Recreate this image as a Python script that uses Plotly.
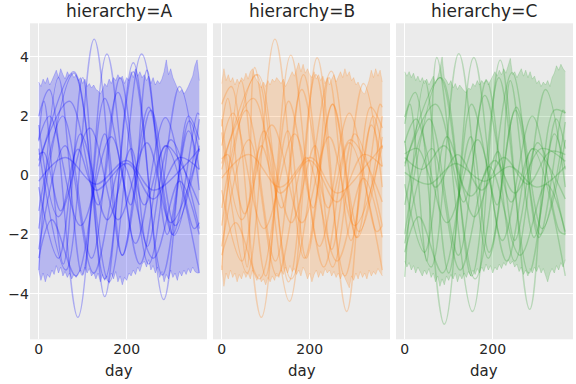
import plotly.graph_objects as go

# ---------------- data ----------------
BAND_DAYS = list(range(0, 366, 5))

A_UPPER = [3.15, 3.0, 3.25, 3.1, 3.3, 3.05, 3.2, 3.35, 3.55, 3.3, 3.6, 3.4, 3.25, 3.5, 3.35, 3.45,
           3.3, 3.4, 3.2, 3.3, 3.1, 3.25, 3.0, 3.1, 2.95, 3.05, 2.9, 2.85, 2.75, 2.9, 3.1, 3.0,
           3.25, 3.1, 3.3, 3.2, 3.4, 3.25, 3.35, 3.1, 3.3, 3.2, 3.5, 3.3, 3.6, 3.35, 3.5, 3.3,
           3.4, 3.2, 3.35, 3.1, 3.3, 3.05, 3.2, 3.1, 3.25, 3.5, 3.9, 3.4, 3.6, 3.3, 3.1, 2.95,
           2.8, 2.9, 2.75, 2.85, 3.0, 3.2, 3.35, 3.7, 3.9, 3.2]
A_LOWER = [-3.2, -3.55, -3.3, -3.6, -3.35, -3.45, -3.2, -3.35, -3.05, -3.3, -3.1, -3.4, -3.25,
           -3.45, -3.3, -3.5, -3.35, -3.45, -3.3, -3.2, -3.35, -3.1, -3.3, -3.15, -3.4, -3.3,
           -3.5, -3.3, -3.6, -3.35, -3.55, -3.4, -3.65, -3.3, -3.5, -3.25, -3.6, -3.4, -3.7,
           -3.45, -3.55, -3.3, -3.4, -3.2, -3.35, -3.1, -3.25, -3.0, -2.9, -3.1, -2.85, -3.2,
           -3.05, -3.3, -3.1, -3.45, -3.25, -3.6, -3.35, -3.5, -3.2, -3.45, -3.3, -3.55, -3.25,
           -3.4, -3.2, -3.35, -3.15, -3.3, -3.1, -3.25, -3.3, -3.3]

B_UPPER = [3.1, 3.6, 3.2, 3.4, 3.15, 3.3, 3.05, 3.25, 3.1, 3.3, 3.2, 3.45, 3.25, 3.5, 3.6, 3.35,
           3.2, 3.1, 2.95, 3.15, 3.0, 3.2, 3.05, 3.25, 3.15, 3.3, 3.2, 3.1, 3.25, 3.0, 3.15, 3.3,
           3.5, 3.35, 3.6, 3.8, 3.5, 3.75, 3.45, 3.6, 3.4, 3.3, 3.5, 3.25, 3.4, 3.2, 3.35, 3.1,
           3.3, 3.05, 3.25, 3.4, 3.15, 3.3, 3.5, 3.3, 3.6, 3.35, 3.5, 3.2, 3.3, 3.05, 3.15, 2.95,
           2.8, 2.75, 2.95, 3.2, 3.55, 3.3, 3.6, 3.35, 3.55, 3.15]
B_LOWER = [-3.05, -3.75, -3.3, -3.5, -3.2, -3.45, -3.3, -3.6, -3.35, -3.5, -3.25, -3.45, -3.3,
           -3.5, -3.2, -3.4, -3.55, -3.35, -3.6, -3.5, -3.7, -3.45, -3.6, -3.4, -3.55, -3.3,
           -3.45, -3.2, -3.35, -3.1, -3.3, -3.05, -3.25, -3.15, -3.35, -3.2, -3.4, -3.1, -3.25,
           -3.5, -3.3, -3.6, -3.35, -3.2, -3.45, -3.25, -3.4, -3.15, -3.3, -3.2, -3.4, -3.25,
           -3.45, -3.3, -3.5, -3.3, -3.45, -3.6, -3.8, -3.4, -3.55, -3.3, -3.5, -3.25, -3.45,
           -3.3, -3.5, -3.2, -3.4, -3.25, -3.35, -3.15, -3.3, -3.4]

C_UPPER = [3.5, 3.35, 3.5, 3.3, 3.45, 3.2, 3.35, 3.15, 3.3, 3.1, 3.25, 3.05, 3.2, 3.35, 3.1, 3.3,
           3.6, 4.0, 3.3, 3.2, 3.05, 3.2, 2.95, 3.1, 2.9, 3.05, 2.95, 2.85, 2.8, 2.95, 2.9, 3.1,
           3.0, 3.2, 3.05, 3.2, 3.1, 3.25, 3.05, 3.2, 3.3, 3.5, 3.35, 3.55, 3.4, 3.6, 3.45, 3.7,
           3.95, 3.4, 3.5, 3.3, 3.45, 3.6, 3.35, 3.55, 3.3, 3.5, 3.25, 3.35, 3.1, 3.2, 3.0, 3.15,
           3.05, 3.2, 3.0, 3.3, 3.45, 3.7, 3.55, 3.75, 3.6, 3.5]
C_LOWER = [-2.9, -3.1, -2.95, -3.2, -3.05, -3.3, -3.1, -3.25, -3.4, -3.2, -3.35, -3.15, -3.45,
           -3.3, -3.6, -3.4, -3.75, -3.5, -3.7, -3.4, -3.55, -3.35, -3.5, -3.3, -3.6, -3.35,
           -3.5, -3.3, -3.45, -3.25, -3.4, -3.2, -3.35, -3.15, -3.3, -3.1, -3.25, -3.0, -3.2,
           -3.05, -3.3, -3.1, -3.2, -3.0, -3.15, -2.95, -3.05, -2.85, -3.0, -2.9, -3.1, -3.0,
           -3.25, -3.1, -3.35, -3.2, -3.4, -3.15, -3.3, -3.1, -3.25, -3.05, -3.3, -3.15, -3.4,
           -3.6, -3.3, -3.15, -3.3, -3.05, -3.2, -2.95, -3.1, -2.85]

# curves: (day, value) turning points
A_CURVES = [
    [(0, 0.9), (62, -3.2), (126, 4.6), (190, -2.7), (255, 2.2), (310, -1.7), (365, 1.0)],
    [(0, 2.0), (24, 2.9), (89, -4.8), (155, 4.1), (220, -2.3), (288, 1.95), (353, -1.8), (365, -1.6)],
    [(0, 1.15), (12, 2.5), (56, -3.0), (100, 3.3), (150, -4.1), (215, 3.8), (284, -4.2), (340, 2.0), (365, 1.2)],
    [(0, -1.8), (80, 3.45), (160, -3.6), (234, 4.1), (304, -2.0), (361, 2.1), (365, 2.05)],
    [(0, -3.2), (45, 3.3), (99, -3.37), (150, 2.6), (209, -1.0), (246, 3.55), (292, -2.0), (342, 1.84), (365, 0.8)],
    [(0, 0.7), (12, 0.77), (50, -1.2), (89, 0.88), (130, -0.5), (201, 0.4), (260, -0.8), (320, 0.6), (365, 0.2)],
    [(0, 1.7), (45, -1.4), (116, 1.6), (180, -1.5), (246, 1.1), (300, -1.6), (365, 0.9)],
    [(0, -0.4), (45, -2.8), (95, 1.4), (156, -1.5), (210, 0.9), (247, -2.4), (300, 1.2), (365, -1.8)],
    [(0, 1.2), (25, 2.0), (95, -1.7), (165, 1.3), (230, -3.0), (288, 1.0), (365, -3.3)],
    [(0, -2.5), (60, 1.0), (125, -3.3), (190, 0.4), (260, -2.8), (320, -0.2), (365, -2.0)],
    [(0, 0.3), (80, 3.5), (150, -3.5), (215, 3.5), (281, -3.37), (340, 1.5), (365, 0.2)],
    [(0, -1.2), (55, 2.0), (120, -2.8), (180, 2.8), (240, -1.0), (290, 1.0), (365, -1.0)],
    [(0, -0.2), (60, 0.6), (130, -0.3), (200, 0.5), (260, -0.5), (330, 0.3), (365, 0.9)],
    [(0, -2.8), (30, -1.5), (85, -3.4), (150, 1.4), (190, -2.7), (250, 2.3), (307, -2.03), (365, 1.9)],
    [(0, 0.5), (70, 2.5), (135, -1.0), (185, 3.3), (250, -3.0), (320, 3.0), (365, -0.5)],
]

B_CURVES = [
    [(0, 1.45), (58, -3.3), (121, 4.6), (188, -2.8), (252, 2.4), (312, -1.9), (365, 1.3)],
    [(0, 2.4), (22, 3.0), (90, -4.8), (157, 4.06), (222, -2.4), (290, 2.1), (352, -1.9), (365, -1.7)],
    [(0, 1.65), (14, 2.6), (58, -3.1), (75, 3.64), (154, -4.26), (217, 3.97), (284, -4.6), (338, 2.3), (365, 1.6)],
    [(0, -1.7), (78, 3.4), (158, -3.5), (249, 3.52), (306, -2.1), (360, 2.4), (365, 2.3)],
    [(0, -3.2), (44, 3.2), (100, -3.4), (152, 2.5), (208, -1.1), (244, 3.3), (294, -2.2), (344, 2.0), (365, 0.9)],
    [(0, 0.55), (14, 0.7), (52, -1.3), (90, 1.0), (132, -0.6), (200, 0.5), (262, -0.9), (322, 0.7), (365, 0.3)],
    [(0, 1.9), (46, -1.5), (114, 1.7), (182, -1.6), (244, 1.3), (302, -1.7), (365, 1.0)],
    [(0, -0.5), (46, -2.9), (96, 1.5), (158, -1.6), (212, 1.0), (250, -2.5), (302, 1.4), (365, -1.7)],
    [(0, 1.0), (26, 2.1), (96, -1.8), (166, 1.4), (232, -3.1), (290, 1.1), (365, -3.2)],
    [(0, -2.4), (62, 1.2), (126, -3.4), (192, 0.6), (262, -2.9), (322, -0.1), (365, -2.1)],
    [(0, 0.2), (82, 3.4), (152, -3.6), (214, 3.4), (280, -3.4), (340, 1.7), (365, 0.3)],
    [(0, -1.1), (56, 2.2), (122, -2.9), (182, 2.9), (242, -1.1), (292, 1.2), (365, -0.9)],
    [(0, -0.1), (62, 0.7), (132, -0.4), (202, 0.6), (262, -0.6), (332, 0.4), (365, 1.0)],
    [(0, -2.7), (32, -1.6), (86, -3.5), (150, 1.5), (192, -2.8), (252, 2.4), (308, -2.1), (365, 2.0)],
    [(0, 0.4), (72, 2.6), (136, -1.1), (186, 3.4), (252, -3.1), (322, 3.1), (365, -0.4)],
]

C_CURVES = [
    [(0, 1.16), (60, -3.1), (123, 4.11), (190, -2.8), (254, 2.3), (312, -1.8), (365, 1.2)],
    [(0, 1.97), (24, 2.8), (90, -5.03), (157, 3.98), (222, -2.2), (290, 2.0), (352, -1.9), (365, -2.0)],
    [(0, 1.74), (12, 2.4), (50, -2.9), (73, 3.98), (154, -4.6), (217, 3.89), (284, -4.53), (340, 2.2), (365, 2.1)],
    [(0, -1.98), (80, 3.3), (160, -3.5), (244, 3.47), (305, -2.1), (360, 2.2), (365, 2.1)],
    [(0, -3.43), (46, 3.2), (100, -3.3), (152, 2.4), (210, -1.0), (240, 3.2), (294, -2.1), (344, 1.9), (365, 0.9)],
    [(0, 0.72), (30, 0.9), (70, -0.4), (120, 0.7), (175, -0.5), (225, 0.6), (280, -0.3), (330, 0.8), (365, 0.7)],
    [(0, 0.6), (40, 0.2), (90, 1.0), (150, -0.7), (205, 0.5), (250, -0.6), (310, 0.9), (365, 0.47)],
    [(0, -0.3), (45, -2.6), (96, 1.3), (158, -1.4), (212, 0.8), (250, -2.2), (302, 1.1), (365, -2.0)],
    [(0, 1.1), (26, 1.9), (96, -1.6), (166, 1.2), (232, -2.9), (290, 0.9), (365, -3.4)],
    [(0, -2.3), (62, 0.9), (126, -3.2), (192, 0.3), (262, -2.7), (322, -0.3), (365, -1.9)],
    [(0, 0.3), (82, 3.3), (152, -3.4), (214, 3.3), (282, -3.3), (340, 1.4), (365, 0.2)],
    [(0, -1.0), (56, 1.9), (122, -2.7), (182, 2.7), (242, -0.9), (292, 0.9), (365, -0.8)],
    [(0, 0.1), (55, -0.3), (115, 0.4), (180, -0.2), (240, 0.3), (300, -0.4), (365, 0.3)],
    [(0, -2.6), (32, -1.4), (86, -3.3), (150, 1.3), (192, -2.6), (252, 2.2), (308, -2.0), (365, 1.8)],
    [(0, 0.4), (70, 2.4), (134, -0.9), (186, 3.2), (250, -2.9), (320, 2.9), (365, -0.4)],
]

PANELS = ["A", "B", "C"]
X_TICKS = [0, 200]
Y_TICKS = [-4, -2, 0, 2, 4]

# ---------------- styling ----------------
RGB = {"A": (0, 0, 255), "B": (255, 127, 14), "C": (44, 160, 44)}
BG = "#ebebeb"
FONT = "DejaVu Sans"
TEXT = "#262626"

DOMAINS = [(30 / 576, 207 / 576), (213 / 576, 390 / 576), (396 / 576, 573 / 576)]
Y_DOMAIN = (1 - 339.3 / 384, 1 - 23.3 / 384)

fig = go.Figure()
bands = {"A": (A_UPPER, A_LOWER), "B": (B_UPPER, B_LOWER), "C": (C_UPPER, C_LOWER)}
curves = {"A": A_CURVES, "B": B_CURVES, "C": C_CURVES}

for i, p in enumerate(PANELS):
    r, g, b = RGB[p]
    xa = "x" if i == 0 else f"x{i+1}"
    ya = "y" if i == 0 else f"y{i+1}"
    up, lo = bands[p]
    fig.add_trace(go.Scatter(x=BAND_DAYS, y=lo, mode="lines", xaxis=xa, yaxis=ya,
                             line=dict(color=f"rgba({r},{g},{b},0.18)", width=1),
                             hoverinfo="skip", showlegend=False))
    fig.add_trace(go.Scatter(x=BAND_DAYS, y=up, mode="lines", xaxis=xa, yaxis=ya,
                             fill="tonexty", fillcolor=f"rgba({r},{g},{b},0.22)",
                             line=dict(color=f"rgba({r},{g},{b},0.18)", width=1),
                             hoverinfo="skip", showlegend=False))
    for c in curves[p]:
        fig.add_trace(go.Scatter(x=[d for d, v in c], y=[v for d, v in c], mode="lines",
                                 xaxis=xa, yaxis=ya,
                                 line=dict(color=f"rgba({r},{g},{b},0.27)", width=1.4,
                                           shape="spline", smoothing=1.0),
                                 showlegend=False))

layout = dict(width=576, height=384, margin=dict(l=0, r=0, t=0, b=0),
              paper_bgcolor="white", plot_bgcolor=BG,
              font=dict(family=FONT, color=TEXT, size=14), showlegend=False)
annotations = []
for i, p in enumerate(PANELS):
    xk = "xaxis" if i == 0 else f"xaxis{i+1}"
    yk = "yaxis" if i == 0 else f"yaxis{i+1}"
    ya = "y" if i == 0 else f"y{i+1}"
    layout[xk] = dict(domain=list(DOMAINS[i]), range=[-19.8, 382.5], anchor=ya,
                      tickvals=X_TICKS, showgrid=True, gridcolor="white", gridwidth=1,
                      zeroline=False, showline=False, ticks="", tickfont=dict(size=14))
    layout[yk] = dict(domain=list(Y_DOMAIN), range=[-5.54, 5.135], anchor="x" if i == 0 else f"x{i+1}",
                      tickvals=Y_TICKS, showgrid=True, gridcolor="white", gridwidth=1,
                      zeroline=False, showline=False, ticks="", showticklabels=(i == 0),
                      tickfont=dict(size=14))
    cx = (DOMAINS[i][0] + DOMAINS[i][1]) / 2
    annotations.append(dict(text=f"hierarchy={p}", x=cx, y=1 - 11 / 384, xref="paper", yref="paper",
                            xanchor="center", yanchor="middle", showarrow=False,
                            font=dict(size=17, family=FONT, color=TEXT)))
    annotations.append(dict(text="day", x=cx, y=1 - 371 / 384, xref="paper", yref="paper",
                            xanchor="center", yanchor="middle", showarrow=False,
                            font=dict(size=15, family=FONT, color=TEXT)))
layout["annotations"] = annotations
fig.update_layout(**layout)
fig.write_html("out.html", config={"displayModeBar": False},
               post_script="document.body.style.margin='0';document.body.style.padding='0';")
